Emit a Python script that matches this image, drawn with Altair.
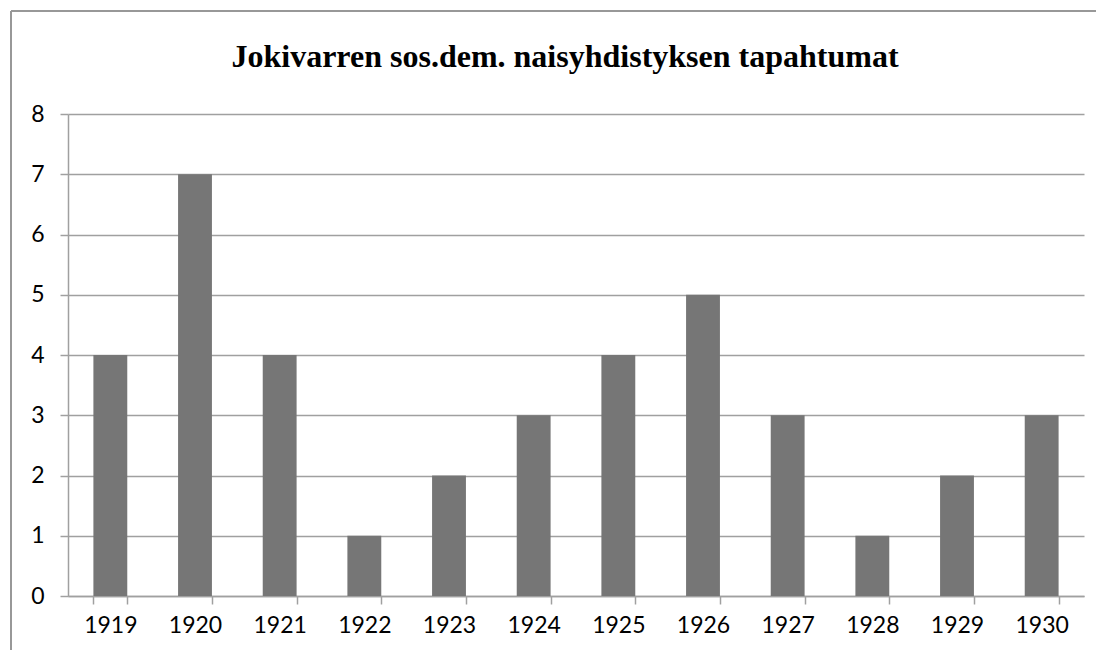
import altair as alt
import pandas as pd

years = ["1919", "1920", "1921", "1922", "1923", "1924", "1925", "1926", "1927", "1928", "1929", "1930"]
counts = [4, 7, 4, 1, 2, 3, 4, 5, 3, 1, 2, 3]
title_text = "Jokivarren sos.dem. naisyhdistyksen tapahtumat"

df = pd.DataFrame({"year": years, "count": counts})
title_df = pd.DataFrame({"t": [title_text]})

W, H = 1016, 482

bars = alt.Chart(df).mark_bar(color="#767676").encode(
    x=alt.X("year:N", sort=years, title=None,
            scale=alt.Scale(paddingInner=0.6, paddingOuter=0.3),
            axis=alt.Axis(labelAngle=0, tickBand="extent", tickSize=8, tickColor="#a0a0a0",
                          tickWidth=1.5, domainColor="#a0a0a0", domainWidth=1.5,
                          labelFont="Lato", labelFontSize=23, labelColor="#000000",
                          labelPadding=10, grid=False)),
    y=alt.Y("count:Q", title=None,
            scale=alt.Scale(domain=[0, 8], nice=False),
            axis=alt.Axis(values=list(range(9)), tickSize=8, tickColor="#a0a0a0", tickWidth=1.5,
                          domainColor="#a0a0a0", domainWidth=1.5, gridColor="#a0a0a0",
                          gridWidth=1.5, labelFont="Lato", labelFontSize=23,
                          labelColor="#000000", labelPadding=16)),
)

border_v = alt.Chart(df).mark_rule(color="#999999", strokeWidth=1.5).encode(
    x=alt.value(-57), y=alt.value(-103), y2=alt.value(H + 80))
border_h = alt.Chart(df).mark_rule(color="#999999", strokeWidth=1.5).encode(
    x=alt.value(-57), x2=alt.value(W + 40), y=alt.value(-103))

title = alt.Chart(title_df).mark_text(
    font="Liberation Serif", fontSize=32, fontWeight="bold", color="#000000",
    align="center", baseline="alphabetic"
).encode(text="t:N", x=alt.value(497), y=alt.value(-47))

chart = alt.layer(bars, border_v, border_h, title).properties(
    width=W, height=H,
    autosize=alt.AutoSizeParams(type="none"),
    padding={"left": 60, "top": 106, "right": 12, "bottom": 54},
).configure_view(stroke=None)

chart.save("out.html", embed_options={"renderer": "svg", "actions": False})
